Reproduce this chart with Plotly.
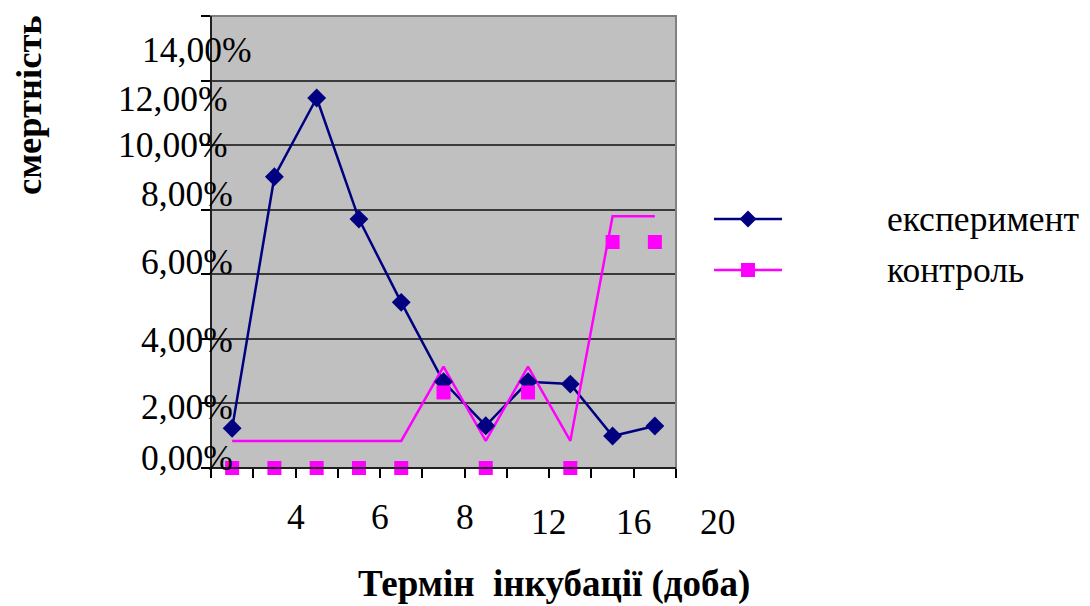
import plotly.graph_objects as go

# ---- data ----
categories = ["1", "2", "3", "4", "5", "6", "7", "8", "9", "10", "11"]
experiment = [1.23, 9.02, 11.46, 7.71, 5.13, 2.67, 1.31, 2.67, 2.60, 0.99, 1.30]
control_markers = [0.0, 0.0, 0.0, 0.0, 0.0, 2.34, 0.0, 2.34, 0.0, 7.0, 7.0]
control_line = [0.84, 0.84, 0.84, 0.84, 0.84, 3.14, 0.84, 3.14, 0.84, 7.8, 7.8]
y_tick_values = [0, 2, 4, 6, 8, 10, 12, 14]
y_tick_labels = ["0,00%", "2,00%", "4,00%", "6,00%", "8,00%", "10,00%", "12,00%", "14,00%"]
x_tick_labels = ["4", "6", "8", "12", "16", "20"]
series_names = ["експеримент", "контроль"]
y_title = "смертність"
x_title = "Термін\u00a0 інкубації (доба)"

# ---- layout constants (page pixels; the page body adds an 8px margin) ----
OFF = 8
PAGE_W, PAGE_H = 1090, 606
W, H = PAGE_W - OFF, PAGE_H - OFF
L, R, T, B = 211, 676, 16, 468          # plot area in page pixels
PW, PH = R - L, B - T
NAVY = "#000080"
MAGENTA = "#FF00FF"
FONT = "Liberation Serif"


def px_x(p):
    return (p - L) / PW


def px_y(p):
    return (B - p) / PH


fig = go.Figure()

fig.add_trace(go.Scatter(x=categories, y=experiment, mode="lines",
                         line=dict(color=NAVY, width=2.5), showlegend=False,
                         name=series_names[0], cliponaxis=False))
fig.add_trace(go.Scatter(x=categories, y=control_line, mode="lines",
                         line=dict(color=MAGENTA, width=2.5), showlegend=False,
                         name=series_names[1], cliponaxis=False))
fig.add_trace(go.Scatter(x=categories, y=experiment, mode="markers",
                         marker=dict(symbol="diamond", size=14.5, color=NAVY),
                         showlegend=False, name=series_names[0], cliponaxis=False))
fig.add_trace(go.Scatter(x=categories, y=control_markers, mode="markers",
                         marker=dict(symbol="square", size=14, color=MAGENTA),
                         showlegend=False, name=series_names[1], cliponaxis=False))

annotations = []
# y tick labels (offset like the original)
label_dx = [24, 24, 24, 24, 24, 18, 18, 42]
label_dy = [10, -4, -1, 12, 16, 0, -18, -34]
for v, t, dx, dy in zip(y_tick_values, y_tick_labels, label_dx, label_dy):
    annotations.append(dict(x=0, xref="paper", y=v, yref="y", text=t,
                            xanchor="right", yanchor="middle", xshift=dx, yshift=dy,
                            showarrow=False, font=dict(family=FONT, size=35.5, color="black")))
# x tick labels
x_label_dy = [0, 0, 0, -5, -5, -5]
for k, (t, dy) in enumerate(zip(x_tick_labels, x_label_dy)):
    annotations.append(dict(x=2 * (k + 1) / len(categories), xref="x domain",
                            y=px_y(517), yref="paper", yshift=dy, text=t,
                            xanchor="center", yanchor="middle", showarrow=False,
                            font=dict(family=FONT, size=35.5, color="black")))
# axis titles
annotations.append(dict(x=px_x(554), y=px_y(PAGE_H), xref="paper", yref="paper",
                        text="<b>" + x_title + "</b>", showarrow=False,
                        xanchor="center", yanchor="bottom", borderpad=0,
                        font=dict(family=FONT, size=37, color="black")))
annotations.append(dict(x=px_x(28), y=px_y(105), xref="paper", yref="paper",
                        text="<b>" + y_title + "</b>", showarrow=False, textangle=-90,
                        xanchor="center", yanchor="middle",
                        font=dict(family=FONT, size=36.5, color="black")))
# legend text
for name, py in zip(series_names, [219, 270]):
    annotations.append(dict(x=px_x(885), y=px_y(py), xref="paper", yref="paper",
                            text=name, showarrow=False, xanchor="left", yanchor="middle",
                            font=dict(family=FONT, size=35.5, color="black")))

shapes = []
# plot border (grey top/right)
shapes.append(dict(type="rect", xref="paper", yref="paper", x0=0, x1=1, y0=0, y1=1,
                   line=dict(color="#808080", width=2), layer="above"))
# black axes lines (left, bottom)
shapes.append(dict(type="line", xref="paper", yref="paper", x0=0, x1=0, y0=0, y1=1,
                   line=dict(color="black", width=1.5), layer="above"))
shapes.append(dict(type="line", xref="paper", yref="paper", x0=0, x1=1, y0=0, y1=0,
                   line=dict(color="black", width=1.5), layer="above"))
# manual legend samples
for color, py, sym in [(NAVY, 219, "diamond"), (MAGENTA, 270, "square")]:
    shapes.append(dict(type="line", xref="paper", yref="paper",
                       x0=px_x(714), x1=px_x(782), y0=px_y(py), y1=px_y(py),
                       line=dict(color=color, width=2.5)))
    if sym == "diamond":
        path = "M-8.5,0 L0,8.5 L8.5,0 L0,-8.5 Z"
    else:
        path = "M-7,-7 L7,-7 L7,7 L-7,7 Z"
    shapes.append(dict(type="path", xref="paper", yref="paper",
                       xsizemode="pixel", ysizemode="pixel",
                       xanchor=px_x(748), yanchor=px_y(py), path=path,
                       fillcolor=color, line=dict(color=color, width=0)))

fig.update_layout(
    width=W, height=H,
    margin=dict(l=L - OFF, r=PAGE_W - R, t=T - OFF, b=PAGE_H - B, pad=0),
    paper_bgcolor="white", plot_bgcolor="#C0C0C0",
    showlegend=False,
    annotations=annotations, shapes=shapes,
    xaxis=dict(type="category", categoryorder="array", categoryarray=categories,
               tickson="boundaries", ticks="outside", ticklen=9, tickcolor="black",
               tickwidth=1.5, showticklabels=False, showgrid=False, zeroline=False,
               showline=False, range=[-0.5, len(categories) - 0.5], fixedrange=True),
    yaxis=dict(range=[0, 14], tickvals=y_tick_values, ticks="outside", ticklen=9,
               tickcolor="black", tickwidth=1.5, showticklabels=False,
               showgrid=True, gridcolor="#3a3a3a", gridwidth=1.5, zeroline=False,
               showline=False, fixedrange=True),
)

fig.write_html("out.html")
